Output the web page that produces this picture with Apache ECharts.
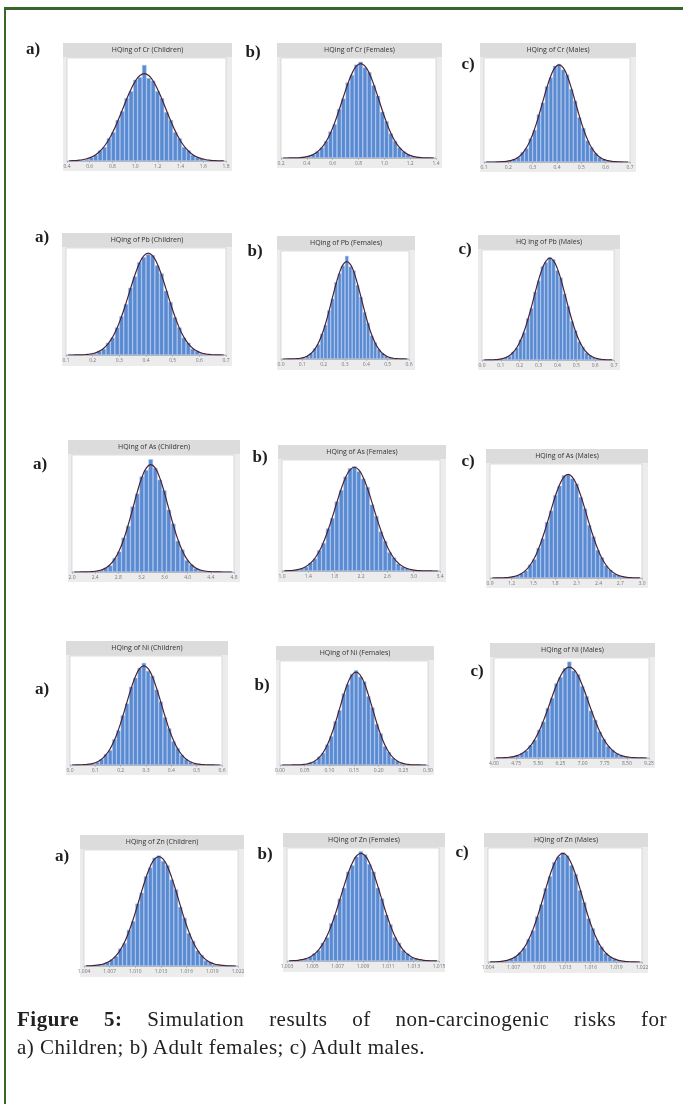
<!DOCTYPE html>
<html><head><meta charset="utf-8">
<script src="https://cdn.jsdelivr.net/npm/echarts@6/dist/echarts.min.js"></script>
<style>
body{margin:0;width:683px;height:1104px;background:#fff;position:relative;overflow:hidden}
#frame{position:absolute;left:4px;top:7px;width:700px;height:1200px;border-top:3px solid #35662a;border-left:2px solid #35662a}
#chart{position:absolute;left:0;top:0;width:683px;height:1104px}
#cap{position:absolute;left:17px;top:1005px;width:650px;font-family:"Liberation Serif",serif;font-size:21px;line-height:28px;color:#222;letter-spacing:0.5px}
#cap .l1{text-align:justify;text-align-last:justify}
</style>
</head><body>
<div id="frame"></div>
<div id="chart"></div>
<div id="cap"><div class="l1"><b>Figure 5:</b> Simulation results of non-carcinogenic risks for</div><div>a) Children; b) Adult females; c) Adult males.</div></div>
<script>
// ---- data (relative frequency, 36 bins per panel) ----
const titles = [
 "HQing of Cr (Children)","HQing of Cr (Females)","HQing of Cr (Males)",
 "HQing of Pb (Children)","HQing of Pb (Females)","HQ ing of Pb (Males)",
 "HQing of As (Children)","HQing of As (Females)","HQing of As (Males)",
 "HQing of Ni (Children)","HQing of Ni (Females)","HQing of Ni (Males)",
 "HQing of Zn (Children)","HQing of Zn (Females)","HQing of Zn (Males)"];
const letters = ["a)","b)","c)"];

const barsCrChildren = [0,0,0.5,1,2,4,7,12,16,26,33,47,57,72,80,93,96,110,95,92,80,72,56,47,33,26,16,12,7,4,3,1,0.6,0.3,0,0];
const curveCrChildren = [0.2,0.4,0.8,1.4,2.6,4.4,7.2,11.4,17.2,24.9,34.5,45.8,58.1,70.7,82.3,91.7,97.9,100,97.9,91.7,82.3,70.7,58.1,45.8,34.5,24.9,17.2,11.4,7.2,4.4,2.6,1.4,0.8,0.4,0.2,0.1];
const barsCrFemales = [0,0,0,0.3,0.6,1.2,2.2,4,7,11,18,28,36,52,63,80,88,99,102,96,91,77,66,49,39,26,18,11,7,4,2,1,0.5,0.2,0,0];
const curveCrFemales = [0,0,0.1,0.2,0.5,1.0,2.0,3.8,6.7,11.2,17.7,26.6,37.8,50.9,64.9,78.4,89.7,97.3,100,97.3,89.7,78.4,64.9,50.9,37.8,26.6,17.7,11.2,6.7,3.8,2.0,1.0,0.5,0.2,0.1,0];
const barsCrMales = [0,0,0,0,0.4,0.8,1.5,3,5,10,14,24,33,49,61,78,87,99,101,95,90,75,63,46,35,22,15,9,5,3,1.3,0.7,0.3,0,0,0];
const curveCrMales = [0,0,0,0.1,0.3,0.7,1.4,2.7,5.1,9.0,14.9,23.3,34.3,47.5,62.1,76.5,88.8,97.1,100,97.1,88.8,76.5,62.1,47.5,34.3,23.3,14.9,9.0,5.1,2.7,1.4,0.7,0.3,0.1,0,0];

const barsPbChildren = [0,0,0,0.2,0.6,1.1,2,4,6,12,17,27,38,50,66,77,91,96,99,98,88,80,63,52,37,27,17,12,6,4,2,1,0.4,0.2,0,0];
const curvePbChildren = [0,0,0.1,0.2,0.5,1.0,2.0,3.8,6.7,11.2,17.7,26.6,37.8,50.9,64.9,78.4,89.7,97.3,100,97.3,89.7,78.4,64.9,50.9,37.8,26.6,17.7,11.2,6.7,3.8,2.0,1.0,0.5,0.2,0.1,0];
const barsPbFemales = [0,0,0,0.3,0.5,1,1.5,3,6,11,15,26,35,50,62,79,88,96,106,95,91,76,64,48,37,24,17,10,6,3,1.5,0.8,0.3,0.1,0,0];
const curvePbFemales = [0,0,0.1,0.2,0.4,0.8,1.7,3.2,5.9,10.1,16.3,24.9,36.0,49.2,63.5,77.5,89.3,97.2,100,97.2,89.3,77.5,63.5,49.2,36.0,24.9,16.3,10.1,5.9,3.2,1.7,0.8,0.4,0.2,0.1,0];
const barsPbMales = [0,0,0.2,0.4,0.8,1.2,2.6,4,8,12,20,27,41,51,67,78,92,96,101,99,88,81,65,53,38,29,18,13,7,4.5,2.2,1.2,0.5,0.2,0,0];
const curvePbMales = [0,0.1,0.1,0.3,0.6,1.3,2.4,4.4,7.6,12.3,19.1,28.2,39.5,52.4,66.2,79.3,90.2,97.4,100,97.4,90.2,79.3,66.2,52.4,39.5,28.2,19.1,12.3,7.6,4.4,2.4,1.3,0.6,0.3,0.1,0.1];

const barsAsChildren = [0,0,0,0.3,0.5,1,2,4,6,13,19,32,43,61,73,89,95,105,97,86,76,58,45,29,21,11,7,3.5,2,0.8,0.4,0.2,0,0,0,0];
const curveAsChildren = [0,0,0.1,0.2,0.4,0.9,1.9,3.7,7.0,12.2,20.0,30.6,44.0,59.1,74.4,87.7,96.8,100,96.8,87.7,74.4,59.1,44.0,30.6,20.0,12.2,7.0,3.7,1.9,0.9,0.4,0.2,0.1,0,0,0];
const barsAsFemales = [0,0.2,0.5,1.4,2.6,4,8,12,20,27,41,51,67,78,91,99,101,96,89,81,64,53,38,29,18,13,7,4,2.2,1.2,0.5,0.2,0,0,0,0];
const curveAsFemales = [0.1,0.3,0.6,1.3,2.4,4.4,7.6,12.3,19.1,28.2,39.5,52.4,66.2,79.3,90.2,97.4,100,97.4,90.2,79.3,66.2,52.4,39.5,28.2,19.1,12.3,7.6,4.4,2.4,1.3,0.6,0.3,0.1,0.1,0,0];
const barsAsMales = [0,0,0.1,0.4,0.6,1.5,2.2,4.5,7,13,18,29,38,54,65,80,89,99,100,96,91,78,67,51,40,27,20,12,8,4,2.5,1.2,0.6,0.2,0,0];
const curveAsMales = [0,0.1,0.1,0.3,0.6,1.3,2.4,4.4,7.6,12.3,19.1,28.2,39.5,52.4,66.2,79.3,90.2,97.4,100,97.4,90.2,79.3,66.2,52.4,39.5,28.2,19.1,12.3,7.6,4.4,2.4,1.3,0.6,0.3,0.1,0.1];

const barsNiChildren = [0,0,0.2,0.5,1,1.5,3,6,11,15,26,35,50,62,79,88,98,103,95,90,76,64,48,37,24,17,10,6,3,1.5,0.8,0.3,0.1,0,0,0];
const curveNiChildren = [0,0.1,0.2,0.4,0.8,1.7,3.2,5.9,10.1,16.3,24.9,36.0,49.2,63.5,77.5,89.3,97.2,100,97.2,89.3,77.5,63.5,49.2,36.0,24.9,16.3,10.1,5.9,3.2,1.7,0.8,0.4,0.2,0.1,0,0];
const barsNiFemales = [0,0,0,0.2,0.3,0.6,1.2,2.5,4,9,13,22,31,47,59,77,87,98,102,95,90,74,62,44,34,20,14,7.5,4.5,2.2,1.2,0.5,0.2,0,0,0];
const curveNiFemales = [0,0,0,0.1,0.2,0.5,1.1,2.3,4.4,8.0,13.5,21.6,32.5,45.8,60.7,75.5,88.2,96.9,100,96.9,88.2,75.5,60.7,45.8,32.5,21.6,13.5,8.0,4.4,2.3,1.1,0.5,0.2,0.1,0,0];
const barsNiMales = [0,0.1,0.3,1,1.8,3,5.5,8,14,20,31,40,55,66,82,89,99,106,96,92,79,68,52,42,29,21,13,9,5,3,1.3,0.8,0.3,0.1,0,0];
const curveNiMales = [0.1,0.2,0.4,0.8,1.5,2.9,5.0,8.5,13.5,20.6,29.8,41.1,53.9,67.4,80.1,90.6,97.6,100,97.6,90.6,80.1,67.4,53.9,41.1,29.8,20.6,13.5,8.5,5.0,2.9,1.5,0.8,0.4,0.2,0.1,0];

const barsZnChildren = [0,0.2,0.4,1.1,2,3,6,9,16,21,33,41,57,67,82,90,99,101,96,92,79,70,54,44,30,23,14,10,5,3.5,1.6,1,0.4,0.2,0,0];
const curveZnChildren = [0.1,0.2,0.5,1.0,1.8,3.3,5.7,9.4,14.8,22.0,31.4,42.7,55.4,68.5,80.8,91.0,97.7,100,97.7,91.0,80.8,68.5,55.4,42.7,31.4,22.0,14.8,9.4,5.7,3.3,1.8,1.0,0.5,0.2,0.1,0];
const barsZnFemales = [0,0.2,0.5,1.3,2,4,7,10,17,22,35,43,58,68,83,89,97,102,99,90,83,68,58,43,34,22,17,10,7,3.5,2.3,1.1,0.5,0.2,0,0];
const curveZnFemales = [0.1,0.3,0.6,1.2,2.2,3.8,6.5,10.4,16.0,23.5,33.0,44.3,56.8,69.6,81.6,91.3,97.8,100,97.8,91.3,81.6,69.6,56.8,44.3,33.0,23.5,16.0,10.4,6.5,3.8,2.2,1.2,0.6,0.3,0.1,0.1];
const barsZnMales = [0,0.1,0.4,0.7,1.6,2.8,5.2,8.8,13,21,29,42,53,68,79,92,97,101,98,89,81,66,55,40,31,20,14,8,5.2,2.7,1.6,0.7,0.4,0.1,0,0];
const curveZnMales = [0.1,0.2,0.4,0.8,1.5,2.9,5.0,8.5,13.5,20.6,29.8,41.1,53.9,67.4,80.1,90.6,97.6,100,97.6,90.6,80.1,67.4,53.9,41.1,29.8,20.6,13.5,8.5,5.0,2.9,1.5,0.8,0.4,0.2,0.1,0];

// tick labels (illegible in the source; estimated)
const ticksCrChildren = ["0.4","0.6","0.8","1.0","1.2","1.4","1.6","1.8"];
const ticksCrFemales = ["0.2","0.4","0.6","0.8","1.0","1.2","1.4"];
const ticksCrMales = ["0.1","0.2","0.3","0.4","0.5","0.6","0.7"];
const ticksPbChildren = ["0.1","0.2","0.3","0.4","0.5","0.6","0.7"];
const ticksPbFemales = ["0.0","0.1","0.2","0.3","0.4","0.5","0.6"];
const ticksPbMales = ["0.0","0.1","0.2","0.3","0.4","0.5","0.6","0.7"];
const ticksAsChildren = ["2.0","2.4","2.8","3.2","3.6","4.0","4.4","4.8"];
const ticksAsFemales = ["1.0","1.4","1.8","2.2","2.6","3.0","3.4"];
const ticksAsMales = ["0.9","1.2","1.5","1.8","2.1","2.4","2.7","3.0"];
const ticksNiChildren = ["0.0","0.1","0.2","0.3","0.4","0.5","0.6"];
const ticksNiFemales = ["0.00","0.05","0.10","0.15","0.20","0.25","0.30"];
const ticksNiMales = ["4.00","4.75","5.50","6.25","7.00","7.75","8.50","9.25"];
const ticksZnChildren = ["1.004","1.007","1.010","1.013","1.016","1.019","1.022"];
const ticksZnFemales = ["1.003","1.005","1.007","1.009","1.011","1.013","1.015"];
const ticksZnMales = ["1.004","1.007","1.010","1.013","1.016","1.019","1.022"];

const panelData = [
 [barsCrChildren,curveCrChildren,ticksCrChildren],[barsCrFemales,curveCrFemales,ticksCrFemales],[barsCrMales,curveCrMales,ticksCrMales],
 [barsPbChildren,curvePbChildren,ticksPbChildren],[barsPbFemales,curvePbFemales,ticksPbFemales],[barsPbMales,curvePbMales,ticksPbMales],
 [barsAsChildren,curveAsChildren,ticksAsChildren],[barsAsFemales,curveAsFemales,ticksAsFemales],[barsAsMales,curveAsMales,ticksAsMales],
 [barsNiChildren,curveNiChildren,ticksNiChildren],[barsNiFemales,curveNiFemales,ticksNiFemales],[barsNiMales,curveNiMales,ticksNiMales],
 [barsZnChildren,curveZnChildren,ticksZnChildren],[barsZnFemales,curveZnFemales,ticksZnFemales],[barsZnMales,curveZnMales,ticksZnMales]];

// ---- layout (pixel boxes): [left, top, right, axisY, bottom], letter pos, y max ----
const boxes = [
 [63,43,232,161,171],[277,43,442,158,168],[480,43,636,162,172],
 [62,233,232,355,366],[277,236,415,359,370],[478,235,620,360,370],
 [68,440,240,572,582],[278,445,446,571,582],[486,449,648,578,588],
 [66,641,228,765,775],[276,646,434,765,775],[490,643,655,758,768],
 [80,835,244,966,977],[283,833,445,961,972],[484,833,648,962,973]];
const letterPos = [[33,50],[253,53],[468,65],[42,238],[255,252],[465,250],[40,465],[260,458],[468,462],[42,690],[262,686],[477,672],[62,857],[265,855],[462,853]];
const yMax = [118,106,107,105,111,108,109,107,110,110,112,110,106,105,105];

const grids=[],xAxes=[],yAxes=[],series=[],graphics=[];
boxes.forEach((b,i)=>{
  const [x0,y0,x1,ay,yb]=b;
  const [bars,curve,ticks]=panelData[i];
  const gl=x0+4, gr=x1-6, gt=y0+15;
  graphics.push({type:'rect',shape:{x:x0,y:y0,width:x1-x0,height:yb-y0},style:{fill:'#ececec'},silent:true,z:0});
  graphics.push({type:'rect',shape:{x:x0,y:y0,width:x1-x0,height:14},style:{fill:'#dcdcdc'},silent:true,z:0});
  graphics.push({type:'rect',shape:{x:gl,y:gt,width:gr-gl,height:ay-gt},style:{fill:'#ffffff',stroke:'#c8c8c8',lineWidth:0.6},silent:true,z:0});
  graphics.push({type:'text',x:(x0+x1)/2,y:y0+7,style:{text:titles[i],fill:'#333',font:'7px "Open Sans", sans-serif',align:'center',verticalAlign:'middle'},silent:true,z:1});
  graphics.push({type:'text',x:letterPos[i][0],y:letterPos[i][1],style:{text:letters[i%3],fill:'#1e1e1e',font:'bold 17px "Liberation Serif", serif',align:'center',verticalAlign:'middle'},silent:true,z:1});
  grids.push({left:gl,top:gt,width:gr-gl,height:ay-gt,containLabel:false});
  xAxes.push({type:'category',gridIndex:i,data:bars.map((v,k)=>k),boundaryGap:true,
    axisLine:{show:true,lineStyle:{color:'#9a9a9a',width:0.6}},axisTick:{show:false},axisLabel:{show:false},splitLine:{show:false}});
  xAxes.push({type:'category',gridIndex:i,data:ticks,position:'bottom',boundaryGap:false,
    axisLine:{show:false},axisTick:{show:true,length:2,lineStyle:{color:'#999',width:0.5}},
    axisLabel:{show:true,interval:0,fontSize:5,color:'#777',margin:3,fontFamily:'Open Sans'},splitLine:{show:false}});
  yAxes.push({type:'value',gridIndex:i,min:0,max:yMax[i],show:false,splitLine:{show:false}});
  series.push({type:'bar',xAxisIndex:2*i,yAxisIndex:i,data:bars,barCategoryGap:'0%',barGap:'0%',silent:true,z:2,
    itemStyle:{color:'#5a8bd2',borderColor:'#a8c3ea',borderWidth:0.5}});
  series.push({type:'line',xAxisIndex:2*i,yAxisIndex:i,data:curve,smooth:true,showSymbol:false,silent:true,z:3,
    lineStyle:{color:'#4a2232',width:1.2}});
});

const chart = echarts.init(document.getElementById('chart'),null,{renderer:'canvas'});
chart.setOption({animation:false,backgroundColor:'transparent',grid:grids,xAxis:xAxes,yAxis:yAxes,series:series,graphic:{elements:graphics}});
</script>
</body></html>
